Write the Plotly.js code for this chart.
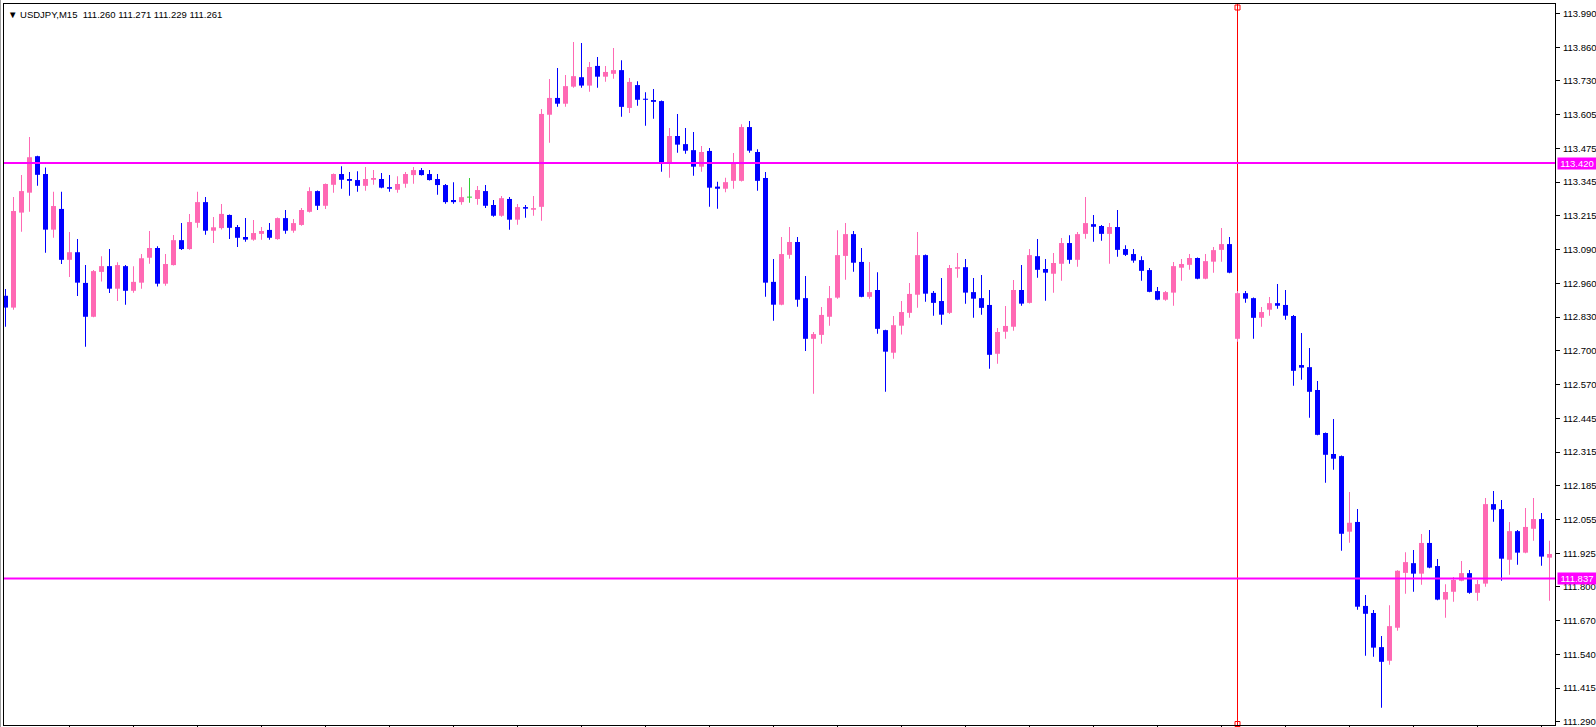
<!DOCTYPE html>
<html><head><meta charset="utf-8">
<script src="https://cdn.plot.ly/plotly-3.0.1.min.js"></script>
<style>html,body{margin:0;padding:0;background:#fff;overflow:hidden}#chart{width:1596px;height:727px}</style>
</head><body><div id="chart"></div>
<script>
const chartTitle = "\u25BC USDJPY,M15  111.260 111.271 111.229 111.261";

const opens = [112.914,112.869,113.231,113.307,113.446,113.378,113.166,113.245,113.051,113.080,112.963,112.834,113.005,113.027,112.941,113.027,112.933,112.964,113.059,113.096,112.960,113.031,113.126,113.092,113.192,113.271,113.162,113.172,113.222,113.176,113.138,113.128,113.150,113.165,113.130,113.210,113.162,113.184,113.234,113.313,113.257,113.337,113.378,113.359,113.355,113.333,113.356,113.359,113.328,113.318,113.341,113.374,113.393,113.378,113.359,113.336,113.279,113.271,113.290,113.283,113.313,113.260,113.219,113.283,113.204,113.252,113.242,113.253,113.604,113.668,113.646,113.711,113.747,113.715,113.790,113.749,113.760,113.774,113.630,113.717,113.665,113.660,113.656,113.417,113.523,113.492,113.469,113.406,113.466,113.330,113.322,113.352,113.352,113.557,113.462,113.363,112.967,112.880,113.070,113.119,112.905,112.750,112.765,112.834,112.907,113.066,113.149,113.043,112.910,112.936,112.783,112.697,112.800,112.849,112.918,113.069,112.925,112.894,112.849,113.017,113.023,112.928,112.905,112.879,112.693,112.777,112.796,112.936,112.887,113.065,113.016,112.998,113.036,113.115,113.051,113.150,113.187,113.180,113.150,113.176,113.092,113.073,113.050,113.012,112.932,112.899,112.926,113.021,113.032,113.058,112.979,113.044,113.089,113.111,112.750,112.924,112.905,112.830,112.861,112.886,112.879,112.837,112.650,112.642,112.555,112.391,112.311,112.303,112.015,112.052,111.732,111.705,111.575,111.523,111.649,111.858,111.895,111.855,111.972,111.884,111.756,111.786,111.828,111.857,111.782,111.817,112.120,112.101,111.908,112.017,111.935,112.026,112.063,111.916];

const highs = [112.940,113.290,113.374,113.519,113.448,113.403,113.310,113.310,113.157,113.130,113.031,113.012,113.065,113.092,113.042,113.031,113.027,113.073,113.161,113.103,113.073,113.146,113.191,113.226,113.310,113.290,113.214,113.264,113.224,113.184,113.210,113.203,113.176,113.191,113.212,113.241,113.207,113.249,113.328,113.315,113.342,113.380,113.408,113.386,113.389,113.405,113.393,113.382,113.374,113.370,113.386,113.405,113.401,113.393,113.378,113.340,113.347,113.328,113.363,113.332,113.336,113.279,113.294,113.290,113.264,113.260,113.294,113.626,113.740,113.782,113.755,113.881,113.877,113.805,113.824,113.790,113.858,113.812,113.744,113.732,113.690,113.702,113.658,113.553,113.607,113.553,113.538,113.485,113.477,113.349,113.364,113.458,113.568,113.580,113.472,113.386,113.054,113.138,113.176,113.138,112.989,112.776,112.871,112.951,113.164,113.191,113.161,113.096,113.043,113.004,112.785,112.837,112.894,112.963,113.157,113.071,112.932,112.982,113.031,113.077,113.054,112.982,112.993,112.936,112.791,112.875,112.974,113.031,113.092,113.130,113.054,113.077,113.134,113.145,113.157,113.290,113.222,113.184,113.191,113.241,113.107,113.092,113.065,113.020,112.947,112.932,113.043,113.054,113.073,113.060,113.073,113.100,113.172,113.138,112.932,112.932,112.907,112.871,112.909,112.959,112.936,112.841,112.772,112.715,112.589,112.393,112.444,112.305,112.166,112.101,111.774,111.716,111.617,111.735,111.868,111.937,111.945,112.006,112.021,111.911,111.815,111.842,111.903,111.869,111.831,112.143,112.170,112.136,112.052,112.021,112.105,112.143,112.086,111.980];

const lows = [112.796,112.861,113.158,113.234,113.333,113.078,113.135,113.035,112.986,112.913,112.720,112.832,112.968,112.925,112.894,112.880,112.926,112.941,113.036,112.949,112.952,113.029,113.088,113.089,113.173,113.147,113.115,113.167,113.130,113.100,113.120,113.124,113.128,113.128,113.128,113.150,113.154,113.181,113.231,113.241,113.245,113.307,113.322,113.295,113.310,113.314,113.337,113.324,113.310,113.307,113.326,113.341,113.372,113.353,113.299,113.265,113.265,113.261,113.269,113.261,113.249,113.215,113.215,113.166,113.185,113.211,113.219,113.200,113.497,113.634,113.634,113.707,113.707,113.692,113.707,113.730,113.741,113.596,113.611,113.638,113.562,113.589,113.387,113.364,113.459,113.455,113.371,113.387,113.253,113.246,113.309,113.322,113.350,113.459,113.314,112.910,112.819,112.878,113.055,112.872,112.704,112.541,112.731,112.800,112.903,112.975,113.006,112.908,112.903,112.769,112.548,112.674,112.766,112.830,112.868,112.891,112.838,112.804,112.845,112.983,112.884,112.830,112.842,112.636,112.655,112.750,112.781,112.876,112.885,112.983,112.895,112.926,112.971,113.036,113.025,113.131,113.120,113.124,113.036,113.063,113.066,113.040,112.971,112.927,112.897,112.895,112.876,112.971,113.013,112.977,112.977,113.002,113.044,113.000,112.739,112.887,112.750,112.796,112.838,112.865,112.823,112.571,112.594,112.449,112.382,112.201,112.251,111.942,111.973,111.717,111.542,111.538,111.344,111.508,111.637,111.778,111.786,111.813,111.876,111.754,111.687,111.748,111.826,111.778,111.752,111.805,112.053,111.828,111.851,111.889,111.933,111.980,111.885,111.752];

const closes = [112.869,113.237,113.313,113.442,113.375,113.166,113.256,113.051,113.080,112.964,112.834,113.008,113.027,112.941,113.031,112.933,112.967,113.057,113.096,112.960,113.035,113.126,113.092,113.195,113.271,113.162,113.175,113.226,113.173,113.135,113.128,113.153,113.161,113.135,113.210,113.162,113.191,113.241,113.313,113.257,113.340,113.378,113.356,113.352,113.333,113.359,113.363,113.326,113.322,113.340,113.378,113.393,113.374,113.355,113.336,113.271,113.271,113.290,113.290,113.317,113.257,113.219,113.286,113.204,113.252,113.246,113.248,113.607,113.668,113.646,113.713,113.751,113.715,113.786,113.749,113.767,113.774,113.634,113.729,113.661,113.661,113.653,113.417,113.523,113.490,113.467,113.406,113.462,113.326,113.322,113.347,113.417,113.557,113.467,113.352,112.964,112.880,113.073,113.119,112.899,112.750,112.768,112.841,112.905,113.069,113.149,113.040,112.910,112.928,112.788,112.701,112.802,112.852,112.921,113.069,112.922,112.887,112.842,113.020,113.023,112.926,112.903,112.868,112.689,112.776,112.799,112.936,112.884,113.069,113.013,113.002,113.039,113.115,113.051,113.149,113.191,113.177,113.150,113.176,113.089,113.070,113.048,113.009,112.929,112.899,112.928,113.027,113.035,113.058,112.979,113.046,113.088,113.111,113.002,112.924,112.903,112.830,112.852,112.886,112.876,112.838,112.628,112.640,112.548,112.384,112.308,112.293,112.007,112.049,111.729,111.702,111.573,111.519,111.655,111.866,111.899,111.855,111.972,111.878,111.756,111.785,111.831,111.857,111.782,111.815,112.120,112.099,111.912,112.017,111.935,112.033,112.063,111.920,111.930];

const yTickLabels = ["113.990","113.860","113.730","113.605","113.475","113.345","113.215","113.090","112.960","112.830","112.700","112.570","112.445","112.315","112.185","112.055","111.925","111.800","111.670","111.540","111.415","111.290"];
const levelPrices = [113.420, 111.837];
const levelLabels = ["113.420", "111.837"];
const markedBar = 154;

const UP = "#FF69B4", DOWN = "#0000FF", DOJI = "#32CD32";

const W = 1596, H = 727;
const M = {l: 4, r: 41, t: 4, b: 2};
const barPx = 8;
const plotW = W - M.l - M.r;
const x0 = -0.1875;
const xRange = [x0, x0 + plotW / barPx];
const yRange = [111.2782, 114.0260];
const pxPerUnit = (H - M.t - M.b) / (yRange[1] - yRange[0]);

const n = opens.length;
const groups = {up: [], down: [], doji: []};
for (let i = 0; i < n; i++) {
  const g = closes[i] > opens[i] ? 'up' : (closes[i] < opens[i] ? 'down' : 'doji');
  groups[g].push(i);
}
const colorOf = {up: UP, down: DOWN, doji: DOJI};
const minBody = 1 / pxPerUnit;

const traces = [];
['up', 'down', 'doji'].forEach(g => {
  const ids = groups[g];
  traces.push({
    type: 'bar', x: ids, base: ids.map(i => lows[i]), y: ids.map(i => highs[i] - lows[i]),
    width: 1 / barPx, marker: {color: colorOf[g], line: {width: 0}}, hoverinfo: 'skip'
  });
});
['up', 'down', 'doji'].forEach(g => {
  const ids = groups[g];
  traces.push({
    type: 'bar', x: ids,
    base: ids.map(i => Math.min(opens[i], closes[i]) - (Math.abs(closes[i] - opens[i]) < minBody ? minBody / 2 : 0)),
    y: ids.map(i => Math.max(Math.abs(closes[i] - opens[i]), minBody)),
    width: 5 / barPx, marker: {color: colorOf[g], line: {width: 0}}, hoverinfo: 'skip'
  });
});
traces.push({
  type: 'scatter', mode: 'markers', x: [markedBar, markedBar],
  y: [yRange[1] - 3.5 / pxPerUnit, yRange[0] + 1 / pxPerUnit],
  marker: {symbol: 'square-open', size: 5, color: '#FF0000', line: {width: 1, color: '#FF0000'}},
  cliponaxis: false, hoverinfo: 'skip'
});

const yTickVals = yTickLabels.map((t, k) => parseFloat(yTickLabels[0]) -
  k * (parseFloat(yTickLabels[0]) - parseFloat(yTickLabels[yTickLabels.length - 1])) / (yTickLabels.length - 1));
const xTickVals = [];
for (let i = 8; i < n; i += 8) xTickVals.push(i);

const shapes = [];
levelPrices.forEach(p => shapes.push({type: 'line', xref: 'paper', x0: 0, x1: 1, yref: 'y', y0: p, y1: p,
  line: {color: '#FF00FF', width: 2}, layer: 'above'}));
shapes.push({type: 'line', xref: 'x', x0: markedBar, x1: markedBar, yref: 'paper', y0: 0, y1: 1,
  line: {color: '#FF0000', width: 1}, layer: 'below'});
shapes.push({type: 'line', xref: 'paper', yref: 'paper', x0: -3.5 / plotW, x1: -3.5 / plotW, y0: -0.1, y1: 1.1,
  line: {color: '#A0A0A0', width: 1}});

const annotations = [{
  xref: 'paper', yref: 'paper', x: 0, xshift: 2, xanchor: 'left', y: 1 - 11 / (H - M.t - M.b), yanchor: 'middle',
  text: chartTitle, showarrow: false, font: {family: 'Liberation Sans, DejaVu Sans, sans-serif', size: 9.5, color: '#000'}
}];
levelPrices.forEach((p, k) => annotations.push({
  xref: 'paper', x: 1, xanchor: 'left', xshift: 2, yref: 'y', y: p, yanchor: 'middle',
  text: levelLabels[k], showarrow: false, bgcolor: '#FF00FF', width: 38, height: 11, borderpad: 0,
  font: {family: 'Liberation Sans, Arial, sans-serif', size: 9.5, color: '#FFFFFF'}
}));

const layout = {
  width: W, height: H, margin: M, paper_bgcolor: '#FFFFFF', plot_bgcolor: '#FFFFFF',
  showlegend: false, barmode: 'overlay', dragmode: false,
  xaxis: {range: xRange, showgrid: false, zeroline: false, showline: true, mirror: true, linecolor: '#000', linewidth: 1,
    ticks: 'outside', ticklen: 3, tickwidth: 1, tickcolor: '#000', tickvals: xTickVals, showticklabels: false, fixedrange: true},
  yaxis: {range: yRange, side: 'right', showgrid: false, zeroline: false, showline: true, mirror: true, linecolor: '#000', linewidth: 1,
    ticks: 'outside', ticklen: 4, tickwidth: 1, tickcolor: '#000', tickvals: yTickVals, ticktext: yTickLabels,
    ticklabeloverflow: 'allow',
    tickfont: {family: 'Liberation Sans, Arial, sans-serif', size: 9.5, color: '#000'}, ticklabelstandoff: 1, fixedrange: true},
  shapes: shapes, annotations: annotations
};

Plotly.newPlot('chart', traces, layout, {staticPlot: true, displayModeBar: false});
</script></body></html>
